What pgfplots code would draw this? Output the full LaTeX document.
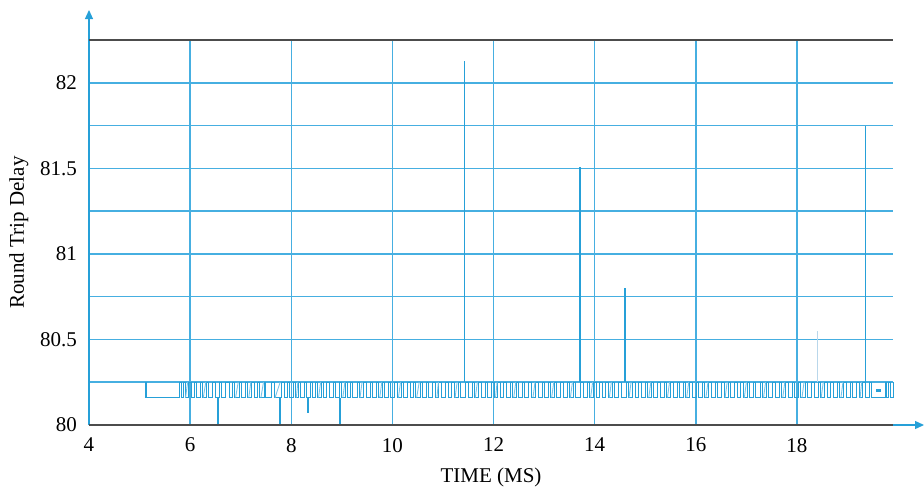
\documentclass[border=0pt]{standalone}
\usepackage{pgfplots}
\pgfplotsset{compat=1.18}
\usetikzlibrary{arrows.meta}
\usepackage{fontspec}
\setmainfont{Liberation Serif}
\definecolor{cblue}{RGB}{38,160,216}
\definecolor{gblue}{RGB}{70,175,225}
\definecolor{mblue}{RGB}{120,195,232}
\definecolor{lblue}{RGB}{185,215,235}
\begin{document}
\begin{tikzpicture}
\begin{axis}[
  scale only axis, width=402pt, height=192.5pt,
  xmin=4, xmax=19.9, ymin=80, ymax=82.25,
  axis x line=bottom, axis y line=left,
  x axis line style={-{Triangle[length=4.5pt,width=4pt]}, cblue, line width=0.6pt, shorten >=-15.5pt},
  y axis line style={-{Triangle[length=4.5pt,width=4pt]}, cblue, line width=0.6pt, shorten >=-15pt},
  xtick={4,6,...,18}, xticklabels={4,6,8,10,12,14,16,18},
  ytick={80,80.5,81,81.5,82}, yticklabels={80,80.5,81,81.5,82},
  minor ytick={80.25,80.75,81.25,81.75,82.25},
  major tick length=0pt, minor tick length=0pt,
  grid=both,
  major grid style={gblue, line width=0.75pt},
  minor grid style={gblue, line width=0.75pt},
  ticklabel style={font=\fontsize{10.5}{12}\selectfont},
  yticklabel style={xshift=-2.5pt},
  xticklabel style={yshift=-3pt},
  xlabel={TIME (MS)}, ylabel={Round Trip Delay},
  label style={font=\fontsize{10.5}{12}\selectfont},
  xlabel style={yshift=-1pt},
  ylabel style={yshift=-1pt},
  unbounded coords=jump,
  clip=false,
]
% main oscillating band (step plot)
\addplot[cblue, line width=0.5pt, const plot, mark=none] coordinates {
(5.10,80.16) (5.12,80.25) (5.14,80.16)
(5.78,80.25) (5.82,80.16) (5.86,80.25) (5.90,80.16) (5.97,80.25) (6.02,80.16)
(6.08,80.25) (6.12,80.16) (6.20,80.25) (6.24,80.16) (6.33,80.25) (6.36,80.16)
(6.45,80.25) (6.50,80.16) (6.58,80.25) (6.62,80.16) (6.70,80.25) (6.78,80.16)
(6.84,80.25) (6.88,80.16) (6.97,80.25) (7.02,80.16) (7.10,80.25) (7.14,80.16)
(7.22,80.25) (7.27,80.16) (7.33,80.25) (7.38,80.16) (7.47,80.25) (7.50,80.16)
(7.60,80.25) (7.66,80.16) (7.80,80.25) (7.86,80.16) (7.92,80.25) (7.96,80.16)
(8.04,80.25) (8.08,80.16) (8.14,80.25) (8.19,80.16) (8.26,80.25) (8.30,80.16)
(8.38,80.25) (8.42,80.16) (8.47,80.25) (8.52,80.16) (8.60,80.25) (8.64,80.16)
(8.70,80.25) (8.76,80.16) (8.83,80.25) (8.87,80.16) (8.95,80.25) (9.00,80.16)
(9.07,80.25) (9.12,80.16) (9.18,80.25) (9.22,80.16) (9.30,80.25) (9.34,80.16)
(9.42,80.25) (9.48,80.16) (9.56,80.25) (9.60,80.16) (9.68,80.25) (9.73,80.16)
(9.80,80.25) (9.84,80.16) (9.92,80.25) (9.97,80.16) (10.05,80.25) (10.10,80.16)
(10.18,80.25) (10.22,80.16) (10.30,80.25) (10.35,80.16) (10.42,80.25) (10.46,80.16)
(10.55,80.25) (10.60,80.16) (10.68,80.25) (10.72,80.16) (10.80,80.25) (10.86,80.16)
(10.92,80.25) (10.97,80.16) (11.05,80.25) (11.10,80.16) (11.17,80.25) (11.22,80.16)
(11.30,80.25) (11.35,80.16) (11.45,80.25) (11.50,80.16) (11.58,80.25) (11.62,80.16)
(11.70,80.25) (11.76,80.16) (11.84,80.25) (11.88,80.16) (11.96,80.25) (12.02,80.16)
(12.08,80.25) (12.13,80.16) (12.20,80.25) (12.25,80.16) (12.33,80.25) (12.38,80.16)
(12.45,80.25) (12.50,80.16) (12.58,80.25) (12.62,80.16) (12.70,80.25) (12.76,80.16)
(12.83,80.25) (12.88,80.16) (12.96,80.25) (13.00,80.16) (13.08,80.25) (13.13,80.16)
(13.20,80.25) (13.25,80.16) (13.33,80.25) (13.38,80.16) (13.46,80.25) (13.50,80.16)
(13.58,80.25) (13.63,80.16) (13.72,80.25) (13.77,80.16) (13.85,80.25) (13.90,80.16)
(13.98,80.25) (14.03,80.16) (14.10,80.25) (14.15,80.16) (14.22,80.25) (14.27,80.16)
(14.35,80.25) (14.40,80.16) (14.48,80.25) (14.53,80.16) (14.62,80.25) (14.66,80.16)
(14.74,80.25) (14.80,80.16) (14.87,80.25) (14.92,80.16) (15.00,80.25) (15.05,80.16)
(15.12,80.25) (15.17,80.16) (15.25,80.25) (15.30,80.16) (15.38,80.25) (15.42,80.16)
(15.50,80.25) (15.56,80.16) (15.63,80.25) (15.68,80.16) (15.76,80.25) (15.80,80.16)
(15.88,80.25) (15.93,80.16) (16.01,80.25) (16.06,80.16) (16.13,80.25) (16.18,80.16)
(16.26,80.25) (16.31,80.16) (16.38,80.25) (16.43,80.16) (16.51,80.25) (16.56,80.16)
(16.64,80.25) (16.68,80.16) (16.76,80.25) (16.82,80.16) (16.89,80.25) (16.94,80.16)
(17.02,80.25) (17.06,80.16) (17.14,80.25) (17.19,80.16) (17.27,80.25) (17.32,80.16)
(17.40,80.25) (17.44,80.16) (17.52,80.25) (17.58,80.16) (17.65,80.25) (17.70,80.16)
(17.78,80.25) (17.83,80.16) (17.91,80.25) (17.95,80.16) (18.03,80.25) (18.08,80.16)
(18.16,80.25) (18.21,80.16) (18.29,80.25) (18.34,80.16) (18.42,80.25) (18.46,80.16)
(18.54,80.25) (18.60,80.16) (18.67,80.25) (18.72,80.16) (18.80,80.25) (18.85,80.16)
(18.93,80.25) (18.98,80.16) (19.05,80.25) (19.10,80.16) (19.18,80.25) (19.23,80.16)
(19.30,80.25) (19.36,80.16) (19.44,80.25) (19.48,80.16)
(19.75,80.25) (19.78,80.16) (19.82,80.25) (19.86,80.16) (19.90,80.25)
};
% lighter diagonal strokes inside the band
\addplot[mblue, line width=0.45pt, mark=none] coordinates {
(5.91,80.16) (5.95,80.25) (nan,nan) (6.26,80.16) (6.31,80.25) (nan,nan)
(6.90,80.16) (6.95,80.25) (nan,nan) (7.16,80.16) (7.20,80.25) (nan,nan)
(7.40,80.16) (7.45,80.25) (nan,nan) (7.68,80.16) (7.78,80.25) (nan,nan)
(8.10,80.16) (8.13,80.25) (nan,nan) (8.54,80.16) (8.58,80.25) (nan,nan)
(9.02,80.16) (9.06,80.25) (nan,nan) (9.36,80.16) (9.40,80.25) (nan,nan)
(9.75,80.16) (9.79,80.25) (nan,nan) (10.12,80.16) (10.16,80.25) (nan,nan)
(10.48,80.16) (10.53,80.25) (nan,nan) (10.88,80.16) (10.91,80.25) (nan,nan)
(11.24,80.16) (11.28,80.25) (nan,nan) (11.64,80.16) (11.68,80.25) (nan,nan)
(12.04,80.16) (12.07,80.25) (nan,nan) (12.40,80.16) (12.44,80.25) (nan,nan)
(12.78,80.16) (12.82,80.25) (nan,nan) (13.15,80.16) (13.19,80.25) (nan,nan)
(13.52,80.16) (13.56,80.25) (nan,nan) (13.92,80.16) (13.96,80.25) (nan,nan)
(14.29,80.16) (14.33,80.25) (nan,nan) (14.68,80.16) (14.72,80.25) (nan,nan)
(15.07,80.16) (15.11,80.25) (nan,nan) (15.44,80.16) (15.48,80.25) (nan,nan)
(15.82,80.16) (15.86,80.25) (nan,nan) (16.20,80.16) (16.24,80.25) (nan,nan)
(16.58,80.16) (16.62,80.25) (nan,nan) (16.96,80.16) (17.00,80.25) (nan,nan)
(17.34,80.16) (17.38,80.25) (nan,nan) (17.72,80.16) (17.76,80.25) (nan,nan)
(18.10,80.16) (18.14,80.25) (nan,nan) (18.48,80.16) (18.52,80.25) (nan,nan)
(18.87,80.16) (18.91,80.25) (nan,nan) (19.25,80.16) (19.28,80.25)
};
% spikes up and dips down
\addplot[cblue, line width=0.7pt, mark=none] coordinates {
(11.43,80.25) (11.43,82.13) (nan,nan)
(13.71,80.25) (13.71,81.51) (nan,nan)
(14.60,80.25) (14.60,80.80) (nan,nan)
(19.35,80.25) (19.35,81.75) (nan,nan)
(6.55,80.16) (6.55,80.00) (nan,nan)
(7.78,80.16) (7.78,80.00) (nan,nan)
(8.96,80.16) (8.96,80.00) (nan,nan)
(8.33,80.16) (8.33,80.07)
};
\addplot[lblue, line width=0.6pt, mark=none] coordinates {(18.40,80.25) (18.40,80.55)};
\addplot[cblue, line width=1.6pt, mark=none] coordinates {(19.57,80.20) (19.67,80.20)};
\draw[black!70, line width=1pt] (axis cs:4,82.25) -- (axis cs:19.9,82.25);
\draw[black!70, line width=1pt] (axis cs:4,80) -- (axis cs:19.9,80);
\end{axis}
\pgfresetboundingbox
\path (-44.5pt,-32pt) rectangle (417.5pt,212.5pt);
\end{tikzpicture}
\end{document}
